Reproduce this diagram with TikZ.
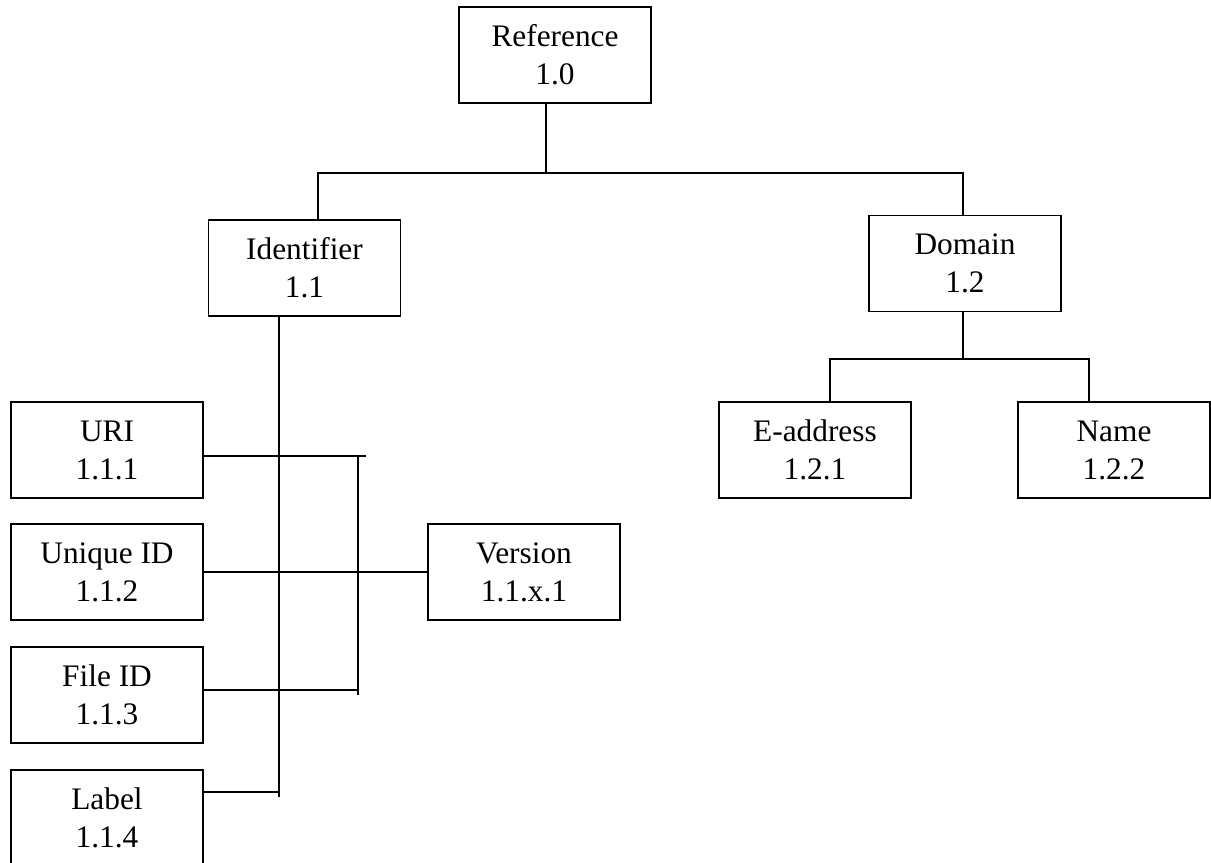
\documentclass[tikz,border=0pt]{standalone}
\usepackage{fontspec}
\setmainfont{Liberation Serif}
\begin{document}
\begin{tikzpicture}[x=0.75pt,y=-0.75pt,
  box/.style={draw, line width=1.4pt, minimum width=144pt, minimum height=72pt,
    align=center, inner sep=0pt, font=\fontsize{23.5}{28.5}\selectfont},
  conn/.style={line width=1.4pt}]
\useasboundingbox (0,0) rectangle (1211,863);
\clip (0,0) rectangle (1211,863);
\node[box] (ref) at (555,55) {Reference\\1.0};
\node[box] (ident) at (304.5,268) {Identifier\\1.1};
\node[box] (domain) at (965,263.5) {Domain\\1.2};
\node[box] (eaddr) at (815,450) {E-address\\1.2.1};
\node[box] (name) at (1114,450) {Name\\1.2.2};
\node[box] (uri) at (107,450) {URI\\1.1.1};
\node[box] (uniq) at (107,572) {Unique ID\\1.1.2};
\node[box] (file) at (107,695) {File ID\\1.1.3};
\node[box] (label) at (107,818) {Label\\1.1.4};
\node[box] (version) at (524,572) {Version\\1.1.x.1};
% top level
\coordinate (rt) at (546,173);
\coordinate (hl) at (318,173);
\coordinate (hr) at (963,173);
\draw[conn] (ref.south -| rt) -- (rt);
\draw[conn] (ident.north -| hl) -- (hl) -- (hr) -- (domain.north -| hr);
% domain children
\coordinate (dj) at (963,359);
\coordinate (el) at (830,359);
\coordinate (er) at (1089,359);
\draw[conn] (domain.south -| dj) -- (dj);
\draw[conn] (eaddr.north -| el) -- (el) -- (er) -- (name.north -| er);
% identifier trunk
\coordinate (tb) at (279,797);
\draw[conn] (ident.south -| tb) -- (tb);
% bracket to version
\coordinate (u1) at (366,456);
\coordinate (bt) at (358,456);
\coordinate (bb) at (358,695);
\coordinate (f1) at (358,690);
\coordinate (l1) at (279,792);
\draw[conn] (uri.east |- u1) -- (u1);
\draw[conn] (bt) -- (bb);
\draw[conn] (uniq.east) -- (version.west);
\draw[conn] (file.east |- f1) -- (f1);
\draw[conn] (label.east |- l1) -- (l1);
\end{tikzpicture}
\end{document}
